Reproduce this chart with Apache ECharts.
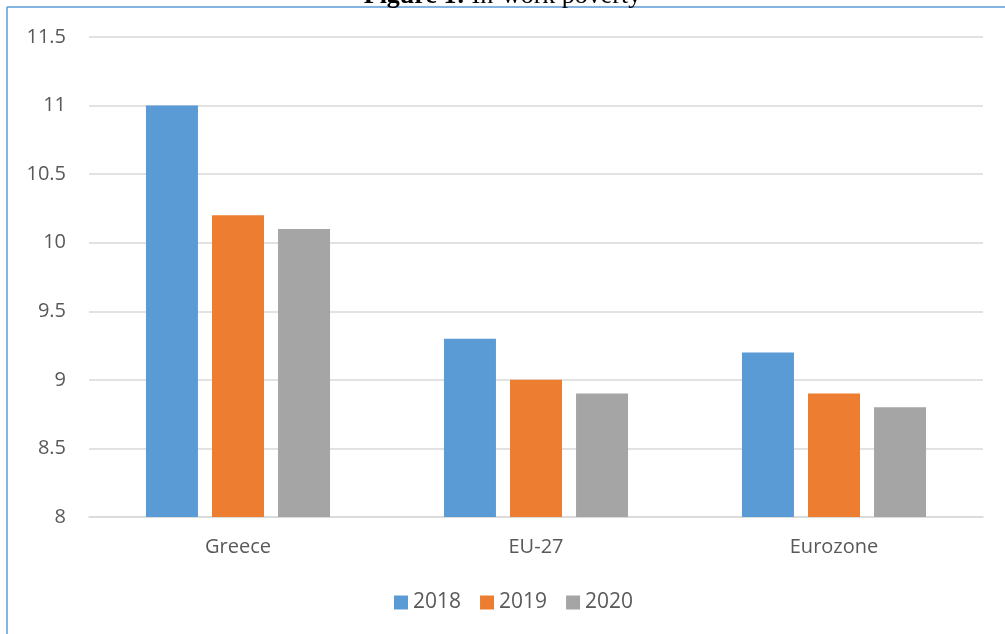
<!DOCTYPE html>
<html>
<head>
<meta charset="utf-8">
<script src="https://cdn.jsdelivr.net/npm/echarts@6/dist/echarts.min.js"></script>
<style>
  html, body { margin: 0; padding: 0; background: #ffffff; }
  #chart { width: 1005px; height: 634px; }
</style>
</head>
<body>
<div id="chart"></div>
<script>
// In-work poverty rate (%) by region and year
const categories = ['Greece', 'EU-27', 'Eurozone'];
const years = ['2018', '2019', '2020'];
const values2018 = [11.0, 9.3, 9.2];
const values2019 = [10.2, 9.0, 8.9];
const values2020 = [10.1, 8.9, 8.8];
const colors = ['#5B9BD5', '#ED7D31', '#A5A5A5'];

const seriesValues = [values2018, values2019, values2020];
const font = "'Open Sans', sans-serif";

const chart = echarts.init(document.getElementById('chart'), null, { renderer: 'canvas' });

chart.setOption({
  backgroundColor: '#ffffff',
  animation: false,
  title: {
    text: '{b|Figure 1:} In-work poverty',
    left: 'center',
    top: -22,
    textStyle: {
      fontFamily: "'Liberation Serif', serif",
      fontSize: 26,
      fontWeight: 'normal',
      color: '#000000',
      rich: {
        b: { fontFamily: "'Liberation Serif', serif", fontSize: 26, fontWeight: 'bold', color: '#000000' }
      }
    }
  },
  graphic: [
    { type: 'line', shape: { x1: 7, y1: 7, x2: 7, y2: 634 }, style: { stroke: '#5B9BD5', lineWidth: 1.5 } },
    { type: 'line', shape: { x1: 7, y1: 7, x2: 1005, y2: 7 }, style: { stroke: '#5B9BD5', lineWidth: 1.5 } }
  ],
  grid: { left: 89, right: 22, top: 37, bottom: 117, containLabel: false },
  legend: {
    data: years,
    bottom: 16,
    left: 389,
    itemWidth: 14,
    itemHeight: 14,
    itemGap: 19,
    icon: 'rect',
    textStyle: { fontFamily: font, fontSize: 21, color: '#595959' }
  },
  xAxis: {
    type: 'category',
    data: categories,
    axisLine: { lineStyle: { color: '#D9D9D9', width: 1.5 } },
    axisTick: { show: false },
    axisLabel: { fontFamily: font, fontSize: 20, color: '#595959', margin: 20 }
  },
  yAxis: {
    type: 'value',
    min: 8,
    max: 11.5,
    interval: 0.5,
    axisLine: { show: false },
    axisTick: { show: false },
    axisLabel: { fontFamily: font, fontSize: 20, color: '#595959', margin: 23 },
    splitLine: { lineStyle: { color: '#D9D9D9', width: 1.5 } }
  },
  series: years.map((y, i) => ({
    name: y,
    type: 'bar',
    data: seriesValues[i],
    barWidth: 52,
    barGap: '27%',
    itemStyle: { color: colors[i] }
  }))
});
</script>
</body>
</html>
